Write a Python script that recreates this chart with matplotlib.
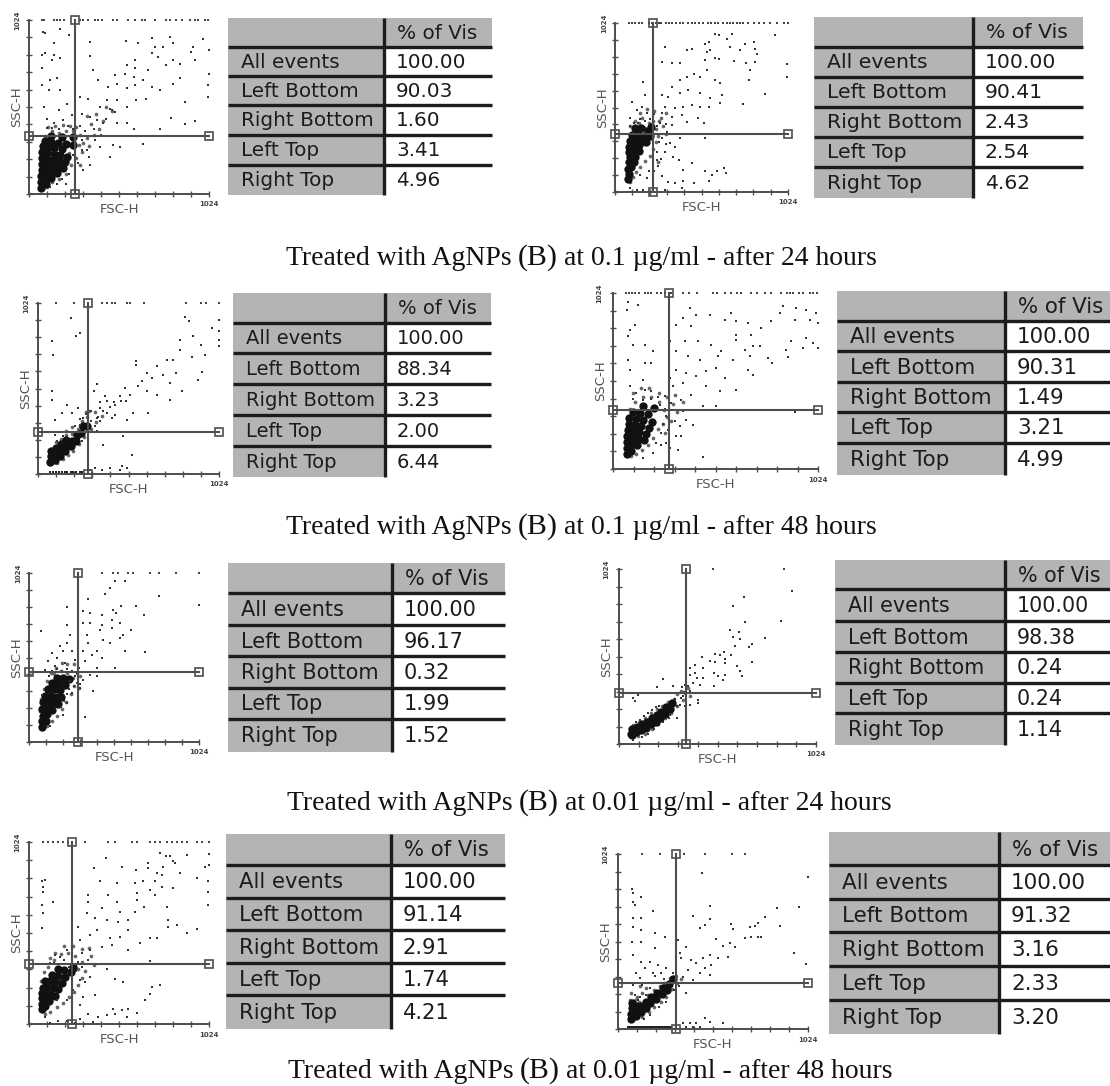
import numpy as np
import matplotlib
matplotlib.use('Agg')
import matplotlib.pyplot as plt
from matplotlib.patches import Rectangle

W, H = 1110, 1086

# table contents
row_labels = ['All events', 'Left Bottom', 'Right Bottom', 'Left Top', 'Right Top']
header = '% of Vis'
a_vals = ['100.00', '90.03', '1.60', '3.41', '4.96']
b_vals = ['100.00', '90.41', '2.43', '2.54', '4.62']
c_vals = ['100.00', '88.34', '3.23', '2.00', '6.44']
d_vals = ['100.00', '90.31', '1.49', '3.21', '4.99']
e_vals = ['100.00', '96.17', '0.32', '1.99', '1.52']
f_vals = ['100.00', '98.38', '0.24', '0.24', '1.14']
g_vals = ['100.00', '91.14', '2.91', '1.74', '4.21']
h_vals = ['100.00', '91.32', '3.16', '2.33', '3.20']

captions = [('0.1', '24'), ('0.1', '48'), ('0.01', '24'), ('0.01', '48')]

# quadrant gates, FSC-H / SSC-H channel
gate_x = [262, 226, 284, 280, 295, 350, 245, 310]
gate_y = [341, 352, 254, 343, 422, 299, 336, 267]

# events: top = on the 1024 line, low = on the floor,
# sparse = single dots, halo = crowded grey zone, core = the solid black area
a_top = [74, 83, 140, 159, 178, 197, 263, 291, 310, 338, 376, 395, 414, 480, 499, 565, 603, 640, 659, 716, 782, 801, 839, 868, 915, 944, 963, 1001, 1018]
a_low = []
a_sparse = [(77, 955), (93, 949), (174, 971), (225, 935), (140, 890), (74, 817), (93, 827), (140, 817), (178, 798), (74, 739), (130, 788), (348, 811), (348, 896), (552, 902), (622, 886), (697, 921), (801, 925), (820, 886), (763, 866), (716, 866), (697, 827), (735, 807), (933, 866), (990, 915), (1024, 847), (924, 837), (943, 788), (820, 788), (782, 758), (857, 768), (603, 788), (556, 758), (678, 729), (603, 739), (546, 709), (595, 690), (489, 699), (366, 729), (395, 670), (451, 631), (499, 650), (556, 621), (603, 641), (650, 670), (697, 631), (744, 611), (820, 650), (857, 680), (1024, 709), (1018, 641), (1018, 572), (886, 542), (810, 450), (943, 430), (885, 410), (744, 385), (668, 562), (611, 552), (556, 513), (499, 552), (442, 552), (461, 503), (475, 495), (489, 483), (404, 513), (385, 434), (338, 562), (291, 572), (300, 473), (348, 454), (423, 415), (440, 440), (499, 415), (556, 415), (595, 385), (650, 297), (518, 277), (461, 218), (480, 287), (404, 277), (376, 316), (329, 257), (348, 169), (310, 140), (178, 611), (121, 670), (159, 680), (74, 641), (112, 611), (83, 513), (168, 493), (215, 532), (140, 415), (102, 444), (196, 434), (243, 464), (290, 400), (320, 370), (350, 340), (270, 300), (300, 260), (340, 220), (250, 230), (280, 180), (260, 140), (230, 120), (190, 90), (160, 60), (210, 60), (120, 40), (300, 320), (250, 380), (220, 400), (170, 380), (130, 390), (100, 390), (370, 380), (410, 350)]
a_halo = [(90, 340), (130, 370), (170, 360), (210, 370), (250, 370), (290, 350), (310, 300), (300, 250), (270, 210), (240, 170), (210, 120), (170, 90), (130, 70), (100, 40), (110, 395), (150, 400), (195, 405), (235, 400), (270, 395), (330, 330), (340, 280), (290, 170), (230, 240), (285, 290), (380, 470), (440, 510), (470, 490), (420, 430), (400, 380), (350, 410), (330, 460), (370, 350)]
a_core = [(66, 35), (70, 70), (95, 60), (70, 105), (100, 100), (125, 95), (72, 140), (100, 135), (130, 130), (160, 125), (72, 175), (100, 170), (130, 165), (165, 160), (195, 155), (75, 210), (105, 205), (135, 200), (170, 195), (205, 190), (75, 245), (105, 240), (140, 235), (175, 230), (215, 220), (80, 280), (110, 275), (145, 270), (185, 265), (90, 310), (125, 305), (165, 300), (210, 295), (250, 290), (125, 340), (185, 335), (250, 335)]

b_top = [80, 100, 120, 140, 160, 200, 220, 240, 260, 270, 300, 320, 340, 360, 385, 400, 430, 455, 475, 500, 520, 550, 570, 590, 610, 640, 660, 680, 700, 720, 740, 760, 790, 820, 850, 880, 920, 960, 1000, 1024]
b_low = []
b_sparse = [(297, 879), (277, 789), (227, 859), (336, 779), (386, 779), (425, 859), (455, 869), (534, 899), (554, 909), (593, 960), (613, 950), (662, 930), (692, 960), (682, 879), (544, 849), (564, 859), (534, 799), (593, 809), (613, 803), (702, 793), (741, 859), (771, 899), (820, 909), (830, 869), (840, 839), (775, 779), (830, 789), (801, 738), (791, 678), (949, 950), (1018, 775), (1018, 698), (890, 594), (755, 531), (633, 587), (623, 537), (564, 567), (504, 698), (544, 738), (593, 678), (623, 658), (465, 718), (425, 698), (386, 678), (336, 638), (316, 577), (277, 587), (386, 598), (435, 618), (504, 598), (554, 517), (504, 517), (455, 527), (405, 517), (356, 507), (297, 517), (277, 477), (336, 457), (395, 467), (494, 447), (524, 416), (425, 426), (336, 406), (306, 366), (267, 416), (168, 668), (178, 587), (99, 547), (158, 517), (128, 497), (89, 447), (188, 477), (138, 416), (534, 326), (386, 326), (356, 275), (326, 296), (297, 245), (346, 215), (376, 195), (405, 135), (455, 175), (534, 125), (573, 105), (603, 125), (643, 145), (658, 115), (554, 64), (465, 54), (405, 64), (356, 54), (316, 58), (395, 24), (297, 14), (257, 155), (277, 95), (128, 14), (89, 24), (168, 14), (227, 44), (247, 195), (188, 85), (148, 105), (260, 300), (280, 330), (300, 290), (250, 240), (270, 200), (230, 130), (200, 130), (250, 400), (210, 440), (180, 430), (150, 440), (110, 420), (90, 400), (300, 410), (230, 470)]
b_halo = [(90, 400), (120, 430), (160, 450), (200, 420), (240, 380), (255, 340), (240, 300), (225, 260), (205, 220), (180, 190), (150, 150), (125, 120), (105, 90), (90, 60), (175, 390), (140, 420), (225, 430), (260, 430), (190, 500), (150, 480), (230, 490), (285, 400), (300, 350), (255, 180), (270, 450), (300, 480)]
b_core = [(75, 80), (85, 110), (75, 140), (95, 150), (80, 180), (110, 180), (90, 210), (120, 215), (80, 240), (110, 250), (140, 250), (85, 270), (115, 285), (145, 285), (90, 310), (125, 320), (160, 310), (100, 345), (135, 350), (170, 340), (205, 340), (120, 385), (155, 385), (195, 370), (215, 395), (185, 300)]

c_top = [103, 205, 361, 389, 417, 436, 502, 520, 600, 840, 924, 952, 1024]
c_low = [70, 85, 100, 120, 135, 150, 165, 185, 200, 215, 235, 250]
c_sparse = [(186, 934), (216, 824), (235, 844), (79, 794), (83, 710), (79, 495), (79, 445), (163, 415), (135, 365), (98, 325), (192, 365), (229, 395), (333, 539), (314, 499), (351, 395), (389, 435), (436, 415), (492, 515), (464, 465), (520, 475), (557, 675), (557, 655), (614, 605), (586, 555), (567, 525), (614, 495), (671, 475), (643, 575), (671, 645), (708, 595), (746, 545), (783, 605), (765, 685), (727, 685), (802, 745), (802, 804), (877, 824), (830, 940), (855, 918), (872, 699), (924, 774), (943, 715), (928, 611), (906, 565), (985, 874), (1024, 924), (1024, 854), (1024, 804), (1024, 764), (812, 495), (746, 445), (624, 365), (539, 365), (483, 225), (530, 116), (417, 335), (351, 315), (502, 325), (436, 355), (389, 365), (333, 335), (370, 175), (257, 335), (239, 295), (333, 255), (295, 26), (323, 36), (361, 26), (408, 36), (464, 26), (502, 36), (473, 46), (304, 6), (140, 230), (110, 200), (180, 250), (210, 290), (240, 330), (280, 260), (250, 200), (300, 320), (320, 290), (340, 340), (370, 380), (300, 380), (410, 400), (430, 430), (470, 440), (350, 430), (500, 440), (380, 470), (270, 360), (95, 235)]
c_halo = [(60, 110), (60, 60), (100, 190), (130, 210), (160, 235), (195, 240), (225, 270), (250, 320), (280, 340), (300, 270), (260, 220), (230, 180), (200, 140), (170, 115), (140, 90), (110, 65), (330, 310), (320, 370), (360, 350), (290, 380), (240, 290), (270, 370), (190, 280), (160, 260)]
c_core = [(70, 70), (72, 105), (72, 140), (95, 85), (100, 120), (100, 155), (125, 110), (130, 145), (130, 180), (155, 135), (160, 170), (160, 205), (185, 165), (190, 200), (215, 195), (220, 235), (245, 245), (255, 285), (280, 290)]

d_top = [67, 80, 95, 110, 130, 160, 175, 190, 220, 240, 262, 290, 350, 380, 420, 500, 520, 560, 590, 620, 640, 690, 720, 760, 790, 840, 870, 885, 900, 930, 950, 985, 1000, 1020]
d_low = []
d_sparse = [(75, 970), (125, 956), (70, 927), (108, 840), (83, 810), (75, 772), (100, 723), (158, 723), (200, 684), (75, 636), (83, 578), (158, 617), (191, 617), (383, 936), (416, 898), (483, 898), (591, 907), (350, 878), (316, 840), (391, 830), (558, 869), (616, 859), (674, 849), (791, 859), (741, 820), (832, 907), (849, 946), (916, 936), (966, 927), (1016, 907), (907, 869), (982, 869), (1024, 849), (966, 762), (999, 733), (1024, 704), (949, 704), (891, 743), (866, 694), (874, 651), (774, 646), (796, 617), (699, 714), (732, 714), (691, 781), (616, 781), (616, 752), (658, 694), (683, 655), (699, 549), (674, 578), (600, 636), (541, 684), (524, 655), (491, 723), (425, 743), (358, 743), (283, 743), (316, 684), (375, 655), (433, 636), (466, 568), (516, 587), (558, 529), (616, 461), (533, 452), (466, 481), (416, 539), (366, 558), (316, 578), (283, 529), (350, 500), (300, 481), (391, 432), (341, 403), (450, 365), (516, 368), (907, 330), (150, 520), (191, 452), (117, 442), (83, 481), (158, 462), (258, 423), (291, 384), (450, 68), (283, 122), (325, 112), (316, 190), (341, 190), (400, 254), (366, 287), (333, 248), (308, 277), (275, 229), (266, 151), (241, 141), (150, 64), (200, 93), (300, 345), (266, 306), (350, 335), (216, 151), (240, 210), (250, 260), (225, 420), (190, 410), (150, 400), (100, 410), (235, 370), (260, 350)]
d_halo = [(85, 350), (110, 390), (150, 420), (190, 420), (230, 390), (255, 345), (270, 300), (250, 260), (225, 230), (200, 180), (175, 140), (145, 110), (115, 90), (90, 75), (100, 440), (140, 470), (180, 470), (230, 440), (270, 420), (300, 380), (320, 330), (290, 280), (260, 210), (310, 430), (350, 390)]
d_core = [(72, 85), (72, 120), (92, 105), (72, 155), (98, 145), (122, 140), (72, 190), (98, 185), (128, 175), (155, 170), (75, 225), (102, 220), (132, 215), (165, 205), (78, 260), (108, 255), (140, 250), (178, 240), (82, 295), (115, 290), (150, 285), (195, 275), (100, 330), (135, 325), (175, 320), (150, 365), (205, 355)]

e_top = [437, 507, 537, 597, 627, 727, 784, 884, 1024]
e_low = []
e_sparse = [(517, 978), (577, 974), (487, 933), (457, 897), (353, 867), (784, 883), (1024, 832), (691, 768), (643, 822), (557, 822), (507, 802), (527, 782), (226, 816), (327, 792), (367, 782), (437, 772), (497, 741), (547, 721), (226, 707), (70, 675), (327, 721), (367, 721), (437, 711), (497, 691), (617, 681), (567, 650), (427, 681), (547, 630), (487, 600), (447, 620), (577, 554), (697, 543), (407, 549), (347, 650), (357, 600), (246, 650), (226, 600), (186, 580), (136, 539), (166, 509), (206, 549), (257, 549), (327, 549), (377, 529), (437, 509), (407, 448), (517, 448), (337, 489), (116, 489), (96, 438), (156, 458), (216, 479), (277, 499), (367, 408), (407, 398), (327, 378), (387, 307), (307, 327), (337, 150), (126, 95), (206, 166), (226, 236), (76, 287), (257, 297), (246, 368), (277, 398), (300, 450), (290, 420), (260, 430), (230, 440), (200, 430), (170, 440), (140, 430), (120, 400), (290, 360), (270, 340), (310, 350), (240, 320), (230, 290), (210, 250), (190, 215)]
e_halo = [(65, 130), (65, 190), (70, 260), (90, 320), (110, 370), (150, 410), (190, 430), (230, 420), (265, 390), (270, 340), (250, 290), (225, 240), (200, 200), (170, 160), (140, 130), (110, 95), (290, 420), (230, 470), (270, 470), (200, 480), (160, 450), (310, 400), (300, 330), (130, 420)]
e_core = [(76, 90), (80, 125), (85, 160), (105, 130), (110, 170), (80, 200), (115, 205), (140, 195), (85, 240), (120, 245), (150, 235), (175, 230), (95, 280), (130, 280), (165, 275), (195, 270), (115, 320), (150, 320), (185, 315), (140, 355), (175, 355), (215, 345), (170, 390), (205, 385), (240, 380)]

f_top = [491, 856]
f_low = []
f_sparse = [(899, 893), (648, 858), (595, 805), (656, 712), (842, 718), (575, 665), (625, 653), (595, 626), (630, 614), (760, 620), (691, 587), (677, 567), (601, 575), (691, 478), (613, 454), (630, 425), (639, 396), (431, 509), (500, 528), (547, 536), (582, 523), (526, 523), (550, 497), (552, 474), (474, 484), (500, 478), (396, 464), (370, 445), (439, 445), (492, 415), (552, 406), (517, 396), (543, 372), (495, 337), (404, 386), (439, 386), (387, 357), (361, 337), (422, 347), (396, 415), (370, 406), (227, 380), (196, 333), (283, 341), (326, 333), (344, 347), (370, 308), (413, 259), (413, 240), (370, 230), (335, 279), (300, 298), (101, 285), (75, 269), (83, 250), (71, 25), (118, 41), (300, 152), (266, 172), (318, 230), (344, 220), (90, 130), (130, 165), (170, 200), (210, 225), (290, 265), (300, 225), (320, 270), (340, 305), (150, 60), (180, 90), (230, 130), (260, 150), (110, 140), (150, 180), (190, 215)]
f_halo = [(55, 85), (75, 110), (105, 130), (135, 155), (165, 180), (195, 205), (225, 220), (255, 245), (285, 265), (300, 290), (320, 310), (345, 300), (335, 260), (300, 225), (270, 180), (240, 150), (205, 115), (170, 85), (135, 60), (100, 45), (360, 330), (370, 280)]
f_core = [(60, 60), (65, 85), (70, 50), (90, 70), (95, 100), (115, 80), (120, 115), (140, 95), (145, 130), (165, 115), (170, 150), (190, 130), (195, 170), (215, 150), (220, 190), (240, 175), (245, 215), (265, 205), (275, 240)]

g_top = [82, 110, 138, 167, 195, 224, 319, 451, 489, 584, 612, 688, 716, 745, 783, 811, 840, 868, 897, 953, 982, 1024]
g_low = []
g_sparse = [(777, 947), (802, 947), (745, 962), (821, 915), (830, 905), (897, 952), (1024, 958), (1024, 896), (1001, 886), (438, 933), (679, 905), (679, 877), (527, 883), (372, 877), (607, 864), (764, 883), (726, 849), (754, 839), (859, 849), (954, 824), (1020, 802), (91, 811), (72, 802), (78, 773), (78, 745), (135, 689), (72, 670), (78, 623), (76, 538), (404, 802), (500, 792), (603, 792), (650, 802), (717, 802), (688, 755), (754, 773), (821, 764), (612, 736), (1020, 745), (1020, 670), (337, 726), (451, 726), (337, 689), (499, 689), (612, 698), (717, 726), (652, 661), (783, 661), (603, 632), (518, 632), (413, 651), (328, 623), (376, 595), (442, 585), (508, 576), (565, 585), (793, 585), (840, 557), (793, 548), (954, 533), (897, 510), (726, 482), (688, 482), (631, 454), (565, 529), (518, 491), (461, 482), (385, 529), (347, 501), (281, 548), (290, 472), (413, 435), (347, 416), (565, 416), (470, 444), (690, 354), (442, 312), (489, 256), (537, 237), (375, 162), (318, 237), (309, 152), (290, 105), (745, 218), (698, 209), (690, 171), (660, 134), (612, 62), (565, 87), (527, 77), (489, 58), (442, 49), (394, 40), (337, 55), (480, 87), (556, 40), (290, 30), (214, 17), (167, 17), (119, 6), (91, 40), (366, 11), (262, 6), (148, 388), (119, 341), (214, 416), (176, 378), (243, 378), (300, 397), (337, 359), (300, 322), (347, 265), (290, 247), (252, 190), (214, 134), (157, 134), (270, 300), (280, 350), (230, 320), (200, 360), (170, 340), (140, 345)]
g_halo = [(70, 240), (85, 290), (110, 320), (140, 360), (180, 395), (220, 400), (260, 380), (300, 350), (320, 300), (300, 260), (280, 220), (255, 180), (225, 150), (195, 120), (160, 95), (120, 65), (90, 55), (150, 400), (200, 440), (250, 440), (300, 420), (350, 380), (370, 330), (340, 430), (280, 310), (120, 370)]
g_core = [(72, 85), (75, 115), (90, 100), (72, 145), (95, 135), (115, 130), (75, 175), (100, 170), (125, 165), (150, 160), (80, 205), (105, 205), (135, 200), (165, 195), (90, 240), (120, 240), (150, 235), (185, 230), (130, 275), (165, 270), (205, 265), (165, 310), (200, 305), (240, 290), (250, 320)]

h_top = [129, 224, 354, 467, 614, 682]
h_low = [55, 65, 75, 85, 95, 105, 115, 125, 135, 145, 155, 165, 175, 185, 195, 205, 215, 225, 235, 245, 255, 265, 275, 285]
h_sparse = [(454, 911), (1024, 891), (77, 819), (81, 794), (126, 774), (81, 745), (90, 725), (189, 692), (494, 721), (404, 661), (494, 641), (467, 608), (440, 589), (611, 614), (619, 583), (709, 595), (736, 603), (754, 618), (790, 653), (857, 710), (973, 716), (871, 603), (946, 443), (1011, 378), (754, 540), (772, 536), (718, 536), (682, 530), (629, 482), (602, 501), (566, 486), (526, 525), (81, 647), (81, 599), (126, 647), (126, 579), (201, 560), (251, 540), (77, 511), (126, 511), (198, 472), (81, 433), (323, 521), (332, 443), (368, 482), (341, 413), (395, 404), (458, 413), (494, 433), (539, 413), (593, 423), (467, 355), (503, 374), (422, 384), (377, 345), (494, 316), (440, 326), (404, 287), (126, 394), (171, 394), (144, 355), (216, 374), (260, 355), (296, 326), (99, 326), (189, 326), (350, 306), (368, 209), (233, 326), (467, 62), (566, 33), (494, 43), (422, 37), (386, 33), (350, 37), (314, 33), (440, 14), (404, 10), (368, 14), (120, 190), (90, 200), (80, 260), (130, 260), (170, 240), (210, 270), (250, 290), (140, 60), (170, 80), (220, 130), (260, 160), (150, 200), (110, 170), (310, 290), (330, 250), (300, 230), (200, 310), (120, 300)]
h_halo = [(65, 170), (70, 210), (90, 170), (115, 160), (130, 210), (160, 200), (195, 230), (225, 250), (250, 270), (280, 300), (310, 310), (320, 270), (290, 235), (260, 190), (230, 160), (195, 130), (165, 100), (130, 70), (100, 190), (150, 240), (340, 290), (120, 250)]
h_core = [(72, 60), (72, 90), (75, 120), (95, 75), (100, 105), (100, 135), (125, 100), (125, 135), (150, 125), (150, 160), (175, 150), (180, 185), (205, 175), (210, 210), (235, 205), (240, 240), (265, 230), (275, 265), (295, 290), (75, 150)]

all_top = [a_top, b_top, c_top, d_top, e_top, f_top, g_top, h_top]
all_low = [a_low, b_low, c_low, d_low, e_low, f_low, g_low, h_low]
all_sparse = [a_sparse, b_sparse, c_sparse, d_sparse, e_sparse, f_sparse, g_sparse, h_sparse]
all_halo = [a_halo, b_halo, c_halo, d_halo, e_halo, f_halo, g_halo, h_halo]
all_core = [a_core, b_core, c_core, d_core, e_core, f_core, g_core, h_core]
all_vals = [a_vals, b_vals, c_vals, d_vals, e_vals, f_vals, g_vals, h_vals]

# layout, reference pixels: plot left, right, top, bottom
plot_boxes = [(29, 209, 20, 194), (615, 788, 23, 192), (38, 219, 303, 474), (613, 818, 293, 469),
              (29, 199, 573, 742), (619, 816, 569, 744), (29, 209, 842, 1024), (618, 808, 854, 1029)]
# table left, right, top, bottom, divider, font size, then the five rule lines
table_boxes = [(228, 492, 18, 195, 384, 14.4), (814, 1083, 17, 198, 973, 14.7), (233, 491, 293, 477, 385, 14.0),
               (837, 1110, 291, 475, 1005, 15.4), (228, 505, 563, 752, 392, 15.0), (835, 1110, 560, 745, 1005, 14.9),
               (226, 505, 834, 1029, 391, 15.2), (829, 1110, 832, 1034, 999, 15.5)]
table_rules = [(47, 76, 105, 135, 165), (47, 77, 107, 137, 167), (323, 353, 384, 415, 446), (321, 351, 382, 412, 443),
               (593, 625, 656, 688, 719), (589, 621, 652, 683, 713), (865, 898, 930, 963, 995), (865, 899, 932, 966, 1000)]
caption_pos = [(286, 257), (286, 526), (287, 802), (288, 1070)]

GATE = '#4d4d4d'
INK = '#1c1c1c'


def dot_plot(fig, box, top, low, sparse, halo, core, gx, gy):
    left, right, ytop, ybot = box
    ax = fig.add_axes([left / W, 1 - ybot / H, (right - left) / W, (ybot - ytop) / H])
    ax.set_xlim(0, 1024)
    ax.set_ylim(0, 1024)
    ax.patch.set_alpha(0)

    ax.scatter(*zip(*halo), s=7, c='#333333', alpha=0.75, linewidths=0, zorder=1)
    ax.scatter(*zip(*core), s=36, c='#111111', linewidths=0, zorder=2)
    ax.scatter(*zip(*sparse), s=2.8, c='#333333', marker='s', linewidths=0, clip_on=False, zorder=3)
    ax.scatter(top, [1024] * len(top), s=2.8, c='#444444', marker='s', linewidths=0, clip_on=False, zorder=3)
    if low:
        ax.scatter(low, [12] * len(low), s=3.5, c='#222222', marker='s', linewidths=0, clip_on=False, zorder=3)

    # quadrant gate with its square handles
    for xs, ys in [([0, 1024], [gy, gy]), ([gx, gx], [0, 1024])]:
        ax.plot(xs, ys, '-s', c=GATE, lw=1.5, ms=5.5, mfc='none', mew=1.2, clip_on=False, zorder=4)

    for side in ['top', 'right']:
        ax.spines[side].set_visible(False)
    for side in ['left', 'bottom']:
        ax.spines[side].set_color(GATE)
        ax.spines[side].set_linewidth(1.4)
    ticks = np.arange(0, 1025, 102.4)
    ax.set_xticks(ticks)
    ax.set_yticks(ticks)
    ax.set_xticklabels([])
    ax.set_yticklabels([])
    ax.tick_params(direction='inout', length=4, width=1, color=GATE)
    ax.set_xlabel('FSC-H', fontsize=9.5, color='#555555', labelpad=1)
    ax.set_ylabel('SSC-H', fontsize=9.5, color='#555555', labelpad=-1)
    ax.text(1.0, -0.06, '1024', transform=ax.transAxes, fontsize=5, fontweight='bold', color='#444444', ha='center', va='center')
    ax.text(-0.065, 1.0, '1024', transform=ax.transAxes, fontsize=5, fontweight='bold', color='#444444', rotation=90, ha='center', va='center')


def stat_table(page, box, rules, vals):
    left, right, ytop, ybot, div, fsize = box
    page.add_patch(Rectangle((left, ytop), div - left, ybot - ytop, fc='#b4b4b4', ec='none', zorder=1))
    page.add_patch(Rectangle((div, ytop), right - div, rules[0] - ytop, fc='#b4b4b4', ec='none', zorder=1))
    page.hlines(rules, left, right, colors=INK, lw=2.4, zorder=2)
    page.vlines(div, ytop, ybot, colors=INK, lw=2.4, zorder=2)
    edges = [rules[0], *rules[1:], ybot]
    page.text(div + 13, (ytop + rules[0]) / 2 + 1, header, fontsize=fsize, color=INK, va='center', zorder=3)
    for i in range(5):
        ymid = (edges[i] + edges[i + 1]) / 2 + 1
        page.text(left + 13, ymid, row_labels[i], fontsize=fsize, color=INK, va='center', zorder=3)
        page.text(div + 12, ymid, vals[i], fontsize=fsize, color=INK, va='center', zorder=3)


def caption(fig, page, x, y, dose, hours):
    # the (B) is set a little larger in the original
    pieces = [('Treated with AgNPs', 20), ('(B)', 21.5), ('at %s µg/ml - after %s hours' % (dose, hours), 20)]
    renderer = fig.canvas.get_renderer()
    for text, size in pieces:
        t = page.text(x, y, text, fontsize=size, family='Liberation Serif', color='#111111', va='baseline', zorder=3)
        x += t.get_window_extent(renderer).width * W / (fig.get_figwidth() * fig.dpi) + 6


if __name__ == '__main__':
    fig = plt.figure(figsize=(W / 100, H / 100), dpi=100, facecolor='white')
    page = fig.add_axes([0, 0, 1, 1])
    page.set_xlim(0, W)
    page.set_ylim(H, 0)
    page.axis('off')

    for i in range(8):
        dot_plot(fig, plot_boxes[i], all_top[i], all_low[i], all_sparse[i], all_halo[i], all_core[i], gate_x[i], gate_y[i])
        stat_table(page, table_boxes[i], table_rules[i], all_vals[i])

    for (x, y), (dose, hours) in zip(caption_pos, captions):
        caption(fig, page, x, y + 8, dose, hours)

    fig.savefig('out.png', dpi=100)
